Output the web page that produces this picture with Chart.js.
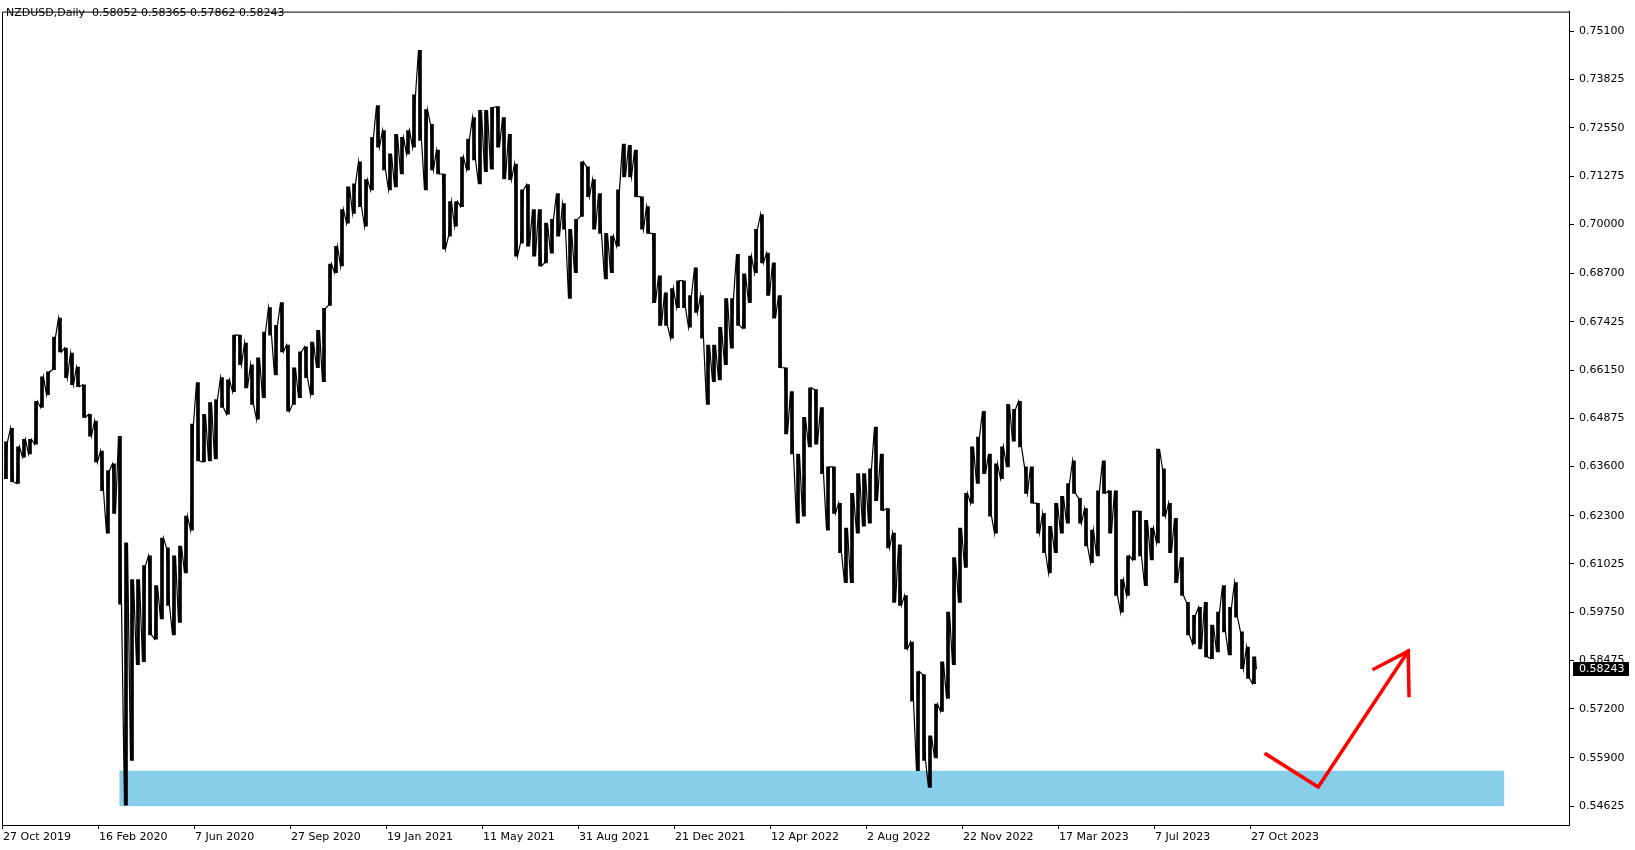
<!DOCTYPE html>
<html>
<head>
<meta charset="utf-8">
<script src="https://cdn.jsdelivr.net/npm/chart.js@4.4.0/dist/chart.umd.min.js"></script>
<style>
    html, body { margin: 0; padding: 0; background: #fff; }
    #wrap { position: relative; width: 1635px; height: 850px; }
</style>
</head>
<body>
<div id="wrap"><canvas id="chart" width="1635" height="850"></canvas></div>
<script>
// Header text and the last daily bar (open, high, low, close)
const symbolTitle = 'NZDUSD,Daily';
const lastBar = [0.58052, 0.58365, 0.57862, 0.58243];

// Weekly high / low (5 daily bars per week)
const weekHigh = [
    0.6425, 0.6461, 0.6412, 0.6432, 0.6432, 0.6532, 0.6597, 0.6610, 0.6702, 0.6752,
    0.6673, 0.6660, 0.6623, 0.6576, 0.6498, 0.6480, 0.6401, 0.6349, 0.6367, 0.6440,
    0.6158, 0.6061, 0.6061, 0.6098, 0.6124, 0.6045, 0.6171, 0.6145, 0.6124, 0.6150,
    0.6229, 0.6472, 0.6582, 0.6498, 0.6529, 0.6537, 0.6595, 0.6589, 0.6707, 0.6707,
    0.6686, 0.6629, 0.6647, 0.6715, 0.6780, 0.6733, 0.6793, 0.6681, 0.6621, 0.6663,
    0.6676, 0.6689, 0.6720, 0.6778, 0.6895, 0.6942, 0.7039, 0.7099, 0.7107, 0.7165,
    0.7118, 0.7230, 0.7314, 0.7248, 0.7186, 0.7238, 0.7230, 0.7248, 0.7342, 0.7460,
    0.7303, 0.7264, 0.7196, 0.7133, 0.7060, 0.7060, 0.7178, 0.7225, 0.7282, 0.7301,
    0.7301, 0.7309, 0.7311, 0.7282, 0.7238, 0.7159, 0.7091, 0.7105, 0.7039, 0.7039,
    0.7003, 0.7013, 0.7081, 0.7055, 0.6987, 0.7013, 0.7165, 0.7152, 0.7118, 0.7081,
    0.6976, 0.6969, 0.7091, 0.7212, 0.7209, 0.7196, 0.7073, 0.7047, 0.6976, 0.6864,
    0.6819, 0.6830, 0.6851, 0.6851, 0.6812, 0.6885, 0.6812, 0.6681, 0.6681, 0.6728,
    0.6804, 0.6804, 0.6921, 0.6869, 0.6916, 0.6987, 0.7026, 0.6924, 0.6898, 0.6812,
    0.6621, 0.6558, 0.6393, 0.6490, 0.6568, 0.6563, 0.6516, 0.6359, 0.6359, 0.6263,
    0.6197, 0.6289, 0.6341, 0.6341, 0.6354, 0.6464, 0.6393, 0.6249, 0.6184, 0.6153,
    0.6019, 0.5896, 0.5818, 0.5810, 0.5648, 0.5732, 0.5844, 0.5975, 0.6119, 0.6197,
    0.6289, 0.6412, 0.6438, 0.6506, 0.6393, 0.6367, 0.6412, 0.6524, 0.6511, 0.6532,
    0.6359, 0.6359, 0.6263, 0.6236, 0.6202, 0.6263, 0.6281, 0.6315, 0.6375, 0.6276,
    0.6249, 0.6192, 0.6296, 0.6375, 0.6296, 0.6296, 0.6061, 0.6124, 0.6242, 0.6242,
    0.6218, 0.6197, 0.6406, 0.6354, 0.6263, 0.6223, 0.6119, 0.6001, 0.5967, 0.5988,
    0.6001, 0.5941, 0.5975, 0.6045, 0.5988, 0.6053, 0.5923, 0.5883, 0.5857
];
const weekLow = [
    0.6328, 0.6320, 0.6315, 0.6385, 0.6393, 0.6419, 0.6516, 0.6550, 0.6616, 0.6663,
    0.6595, 0.6576, 0.6571, 0.6490, 0.6440, 0.6372, 0.6296, 0.6184, 0.6236, 0.5996,
    0.5465, 0.5583, 0.5836, 0.5844, 0.5915, 0.5904, 0.5957, 0.5993, 0.5915, 0.5948,
    0.6079, 0.6192, 0.6375, 0.6372, 0.6375, 0.6380, 0.6516, 0.6498, 0.6558, 0.6629,
    0.6568, 0.6524, 0.6485, 0.6542, 0.6707, 0.6602, 0.6663, 0.6506, 0.6524, 0.6542,
    0.6595, 0.6550, 0.6621, 0.6584, 0.6786, 0.6872, 0.6890, 0.7003, 0.7029, 0.7047,
    0.6995, 0.7091, 0.7204, 0.7144, 0.7091, 0.7099, 0.7133, 0.7186, 0.7204, 0.7222,
    0.7091, 0.7144, 0.7133, 0.6935, 0.6969, 0.6995, 0.7047, 0.7144, 0.7170, 0.7107,
    0.7139, 0.7146, 0.7204, 0.7120, 0.7118, 0.6916, 0.6950, 0.6942, 0.6916, 0.6890,
    0.6898, 0.6924, 0.6969, 0.6987, 0.6804, 0.6872, 0.7021, 0.7073, 0.6987, 0.6976,
    0.6856, 0.6872, 0.6942, 0.7125, 0.7125, 0.7073, 0.6987, 0.6976, 0.6793, 0.6733,
    0.6733, 0.6699, 0.6780, 0.6780, 0.6728, 0.6767, 0.6699, 0.6524, 0.6584, 0.6589,
    0.6629, 0.6673, 0.6733, 0.6725, 0.6793, 0.6872, 0.6898, 0.6812, 0.6752, 0.6621,
    0.6446, 0.6393, 0.6210, 0.6229, 0.6412, 0.6419, 0.6341, 0.6192, 0.6236, 0.6132,
    0.6053, 0.6053, 0.6184, 0.6202, 0.6210, 0.6270, 0.6244, 0.6145, 0.6001, 0.5993,
    0.5878, 0.5740, 0.5556, 0.5583, 0.5512, 0.5590, 0.5713, 0.5747, 0.5836, 0.6001,
    0.6093, 0.6263, 0.6315, 0.6341, 0.6229, 0.6184, 0.6328, 0.6359, 0.6427, 0.6412,
    0.6289, 0.6263, 0.6184, 0.6132, 0.6079, 0.6132, 0.6184, 0.6210, 0.6289, 0.6210,
    0.6150, 0.6106, 0.6124, 0.6289, 0.6184, 0.6019, 0.5975, 0.6019, 0.6113, 0.6124,
    0.6045, 0.6113, 0.6158, 0.6229, 0.6132, 0.6053, 0.6019, 0.5915, 0.5891, 0.5878,
    0.5857, 0.5852, 0.5870, 0.5923, 0.5862, 0.5962, 0.5826, 0.5800, 0.5786
];

// Time axis labels and the daily bar index each one sits on
const dateLabels = ['27 Oct 2019', '16 Feb 2020', '7 Jun 2020', '27 Sep 2020', '19 Jan 2021',
    '11 May 2021', '31 Aug 2021', '21 Dec 2021', '12 Apr 2022', '2 Aug 2022',
    '22 Nov 2022', '17 Mar 2023', '7 Jul 2023', '27 Oct 2023'];
const dateLabelBars = [0, 80, 160, 240, 320, 400, 480, 560, 640, 720, 800, 880, 960, 1040];

// Price axis labels
const priceTicks = [0.75100, 0.73825, 0.72550, 0.71275, 0.70000, 0.68700, 0.67425, 0.66150,
    0.64875, 0.63600, 0.62300, 0.61025, 0.59750, 0.58475, 0.57200, 0.55900, 0.54625];

// Drawn objects: support zone (bar from/to, price top/bottom) and red arrow path
const zoneBars = [97, 1251];
const zonePrices = [0.5556, 0.54625];
const arrowBars = [1052.5, 1096, 1171];
const arrowPrices = [0.5600, 0.5513, 0.5872];
const arrowHeadBars = [1142.5, 1171.7];
const arrowHeadPrices = [0.5825, 0.5755];

// weekly ranges as floating bars, plus a zig-zag path through high and low
const weekRanges = weekHigh.map((h, i) => ({ x: 5 * i + 2.5, y: [weekLow[i], h] }));
const pricePath = [];
for (let i = 0; i < weekHigh.length; i++) {
    const mid = (weekHigh[i] + weekLow[i]) / 2;
    const next = i + 1 < weekHigh.length ? (weekHigh[i + 1] + weekLow[i + 1]) / 2 : lastBar[3];
    const pair = next >= mid ? [weekLow[i], weekHigh[i]] : [weekHigh[i], weekLow[i]];
    pricePath.push({ x: 5 * i + 1.25, y: pair[0] });
    pricePath.push({ x: 5 * i + 3.75, y: pair[1] });
}
pricePath.push({ x: 5 * weekHigh.length - 0.5, y: lastBar[3] });

const mt4Plugin = {
    id: 'mt4',
    beforeDatasetsDraw(chart) {
        const { ctx, scales: { x, y } } = chart;
        // blue support zone
        ctx.save();
        ctx.fillStyle = '#87ceeb';
        const x1 = x.getPixelForValue(zoneBars[0]);
        const x2 = x.getPixelForValue(zoneBars[1]);
        const y1 = y.getPixelForValue(zonePrices[0]);
        const y2 = y.getPixelForValue(zonePrices[1]);
        ctx.fillRect(x1, y1, x2 - x1, y2 - y1);
        ctx.restore();
    },
    afterDatasetsDraw(chart) {
        const { ctx, scales: { x, y } } = chart;
        ctx.save();
        ctx.strokeStyle = '#ff0000';
        ctx.lineWidth = 3.5;
        ctx.lineJoin = 'miter';
        ctx.lineCap = 'square';
        ctx.beginPath();
        arrowBars.forEach((b, i) => {
            const px = x.getPixelForValue(b);
            const py = y.getPixelForValue(arrowPrices[i]);
            if (i === 0) ctx.moveTo(px, py); else ctx.lineTo(px, py);
        });
        ctx.stroke();
        const tipX = x.getPixelForValue(arrowBars[2]);
        const tipY = y.getPixelForValue(arrowPrices[2]);
        ctx.beginPath();
        ctx.moveTo(x.getPixelForValue(arrowHeadBars[0]), y.getPixelForValue(arrowHeadPrices[0]));
        ctx.lineTo(tipX, tipY);
        ctx.lineTo(x.getPixelForValue(arrowHeadBars[1]), y.getPixelForValue(arrowHeadPrices[1]));
        ctx.stroke();
        ctx.restore();
    },
    afterDraw(chart) {
        const { ctx, chartArea, scales: { y } } = chart;
        ctx.save();
        // frame on left and top
        ctx.strokeStyle = '#000';
        ctx.lineWidth = 1;
        ctx.beginPath();
        ctx.moveTo(chartArea.left + 0.5, chartArea.bottom);
        ctx.lineTo(chartArea.left + 0.5, chartArea.top + 0.5);
        ctx.lineTo(chartArea.right, chartArea.top + 0.5);
        ctx.stroke();
        // title
        ctx.fillStyle = '#000';
        ctx.font = '11px "DejaVu Sans"';
        ctx.textBaseline = 'middle';
        ctx.textAlign = 'left';
        ctx.fillText(symbolTitle + '  ' + lastBar.map(v => v.toFixed(5)).join(' '), 6, 13);
        // last price tag
        const py = Math.round(y.getPixelForValue(lastBar[3]));
        ctx.fillRect(chartArea.right + 4, py - 7, 56, 14);
        ctx.fillStyle = '#fff';
        ctx.fillText(lastBar[3].toFixed(5), chartArea.right + 10, py + 0.5);
        ctx.restore();
    }
};

new Chart(document.getElementById('chart').getContext('2d'), {
    data: {
        datasets: [{
            type: 'bar',
            data: weekRanges,
            backgroundColor: '#000',
            borderWidth: 0,
            barThickness: 3
        }, {
            type: 'line',
            data: pricePath,
            borderColor: '#000',
            borderWidth: 1.2,
            pointRadius: 0,
            tension: 0,
            fill: false
        }]
    },
    options: {
        responsive: false,
        animation: false,
        layout: { padding: { left: 2, top: 3, right: 0, bottom: 0 } },
        plugins: {
            legend: { display: false },
            tooltip: { enabled: false }
        },
        scales: {
            x: {
                type: 'linear',
                offset: false,
                min: -0.833,
                max: 1305,
                afterBuildTicks: (scale) => { scale.ticks = dateLabelBars.map(v => ({ value: v })); },
                afterFit: (scale) => { scale.height = 25; },
                grid: { drawOnChartArea: false, drawTicks: true, tickLength: 4, color: '#000', offset: false },
                border: { display: true, color: '#000' },
                ticks: {
                    autoSkip: false,
                    maxRotation: 0,
                    align: 'start',
                    padding: 2,
                    color: '#000',
                    font: { family: 'DejaVu Sans', size: 11 },
                    callback: (v, i) => dateLabels[i]
                }
            },
            y: {
                position: 'right',
                min: 0.54126,
                max: 0.75622,
                afterBuildTicks: (scale) => { scale.ticks = priceTicks.map(v => ({ value: v })); },
                afterFit: (scale) => { scale.width = 66; },
                grid: { drawOnChartArea: false, drawTicks: true, tickLength: 5, color: '#000' },
                border: { display: true, color: '#000' },
                ticks: {
                    autoSkip: false,
                    padding: 5,
                    color: '#000',
                    font: { family: 'DejaVu Sans', size: 11 },
                    callback: (v) => Number(v).toFixed(5)
                }
            }
        }
    },
    plugins: [mt4Plugin]
});
</script>
</body>
</html>
